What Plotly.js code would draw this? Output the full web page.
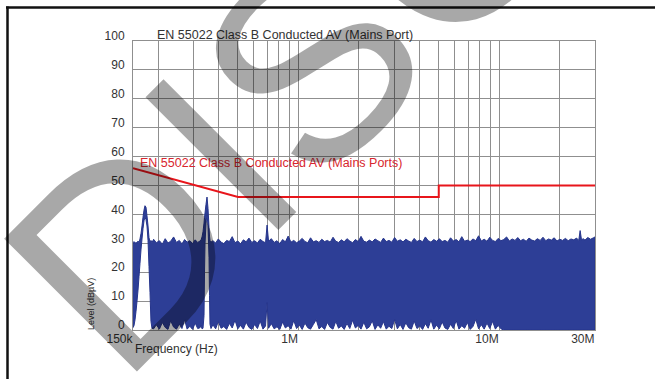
<!DOCTYPE html>
<html>
<head>
<meta charset="utf-8">
<script src="https://cdn.plot.ly/plotly-3.0.1.min.js"></script>
<style>
html,body{margin:0;padding:0;background:#fff;}
#chart{width:655px;height:379px;}
</style>
</head>
<body>
<div id="chart"></div>
<script>
// ---- data ----
// sweep frequencies in kHz
const freqKHz = [
 150,151.7,153.5,155.3,157.1,158.9,160.7,162.5,164.5,166.3,168.2,170.2,172.1,174.1,176.1,178.2,180.2,182.3,184.3,186.5,
 190,196,203,210,217,224,231,239,247,255,263,271,279,288,297,306,315,
 323.6,327.3,331.1,334.8,338.7,340.6,342.6,346.5,350.5,354.6,358.7,360.7,362.7,366.9,
 375,387,399,412,425,439,453,468,483,499,515,532,549,567,586,605,625,645,666,686,698,710,733,757,782,808,834,861,889,918,948,979,
 1011,1044,1078,1113,1149,1187,1226,1266,1307,1350,1394,1440,1487,1535,1585,1637,1690,1745,1802,1861,1922,1985,
 2050,2117,2186,2257,2331,2407,2486,2567,2651,2737,2826,2918,3013,3111,3213,3318,3426,3538,3653,3772,3895,
 4022,4153,4289,4429,4573,4722,4876,5035,5199,5369,5544,5725,5912,6105,6304,6510,6722,6942,7168,7402,7644,7893,
 8151,8417,8692,8975,9268,9571,9883,10206,10539,10883,11238,11605,11984,12375,12779,13196,13627,14072,14531,
 15005,15495,16001,16523,17062,17619,18194,18788,19401,20034,20688,21363,22060,22780,23523,24291,24900,25300,25700,
 26200,26747,27620,28521,29452,30000
];
// upper envelope of the measured level, dBµV
const levelMax = [
 29.5,30.6,29.8,30.4,30.0,30.8,30.2,31.5,33.5,36.0,39.0,41.5,43.0,42.5,39.5,36.0,32.0,30.4,31.0,30.2,
 31.4,30.2,30.9,29.7,31.6,30.1,30.7,32.2,30.3,31.0,29.8,31.3,30.4,30.9,29.9,31.2,30.3,
 30.8,31.2,32.2,34.0,37.0,39.0,40.5,43.5,46.0,42.0,35.5,32.5,31.0,30.4,
 30.9,30.1,31.5,30.4,29.9,31.0,30.6,32.3,30.2,30.8,29.8,31.2,30.5,31.8,30.3,30.9,30.1,31.4,30.6,30.2,36.3,30.7,31.6,30.3,30.9,29.9,31.3,30.5,32.5,30.4,31.0,30.2,
 30.8,31.7,30.6,30.2,31.9,30.5,30.9,30.3,31.4,30.6,31.0,30.4,32.1,30.7,30.3,31.2,30.5,31.6,30.8,30.2,31.3,30.6,
 32.4,30.7,30.4,31.1,30.5,31.5,30.9,30.3,31.8,30.6,31.0,30.4,32.0,30.7,31.2,30.5,31.4,30.8,30.3,31.7,30.6,
 31.1,30.5,32.2,30.9,30.4,31.3,30.7,31.6,30.6,31.0,30.4,31.9,30.8,31.3,30.5,32.3,30.7,31.1,30.6,31.5,30.9,32.6,
 30.8,31.4,30.7,32.1,31.0,30.6,31.7,30.9,31.3,32.2,30.8,31.5,31.0,32.0,30.9,31.4,30.7,31.8,31.1,
 30.8,31.6,31.0,32.1,30.9,31.5,31.1,31.9,30.8,31.4,31.0,31.7,30.9,31.5,31.2,31.8,31.0,34.4,31.2,
 31.6,31.1,32.0,31.4,31.9,32.2
];
// lower envelope of the measured level, dBµV
const levelMin = [
 0.8,1.5,3.5,6.5,10.0,13.8,18.5,23.0,28.0,31.5,35.0,37.8,39.0,38.2,36.0,31.0,22.0,13.0,3.0,0.6,
 0.4,1.8,0.3,2.6,0.9,0.2,3.2,1.0,0.3,2.1,0.5,3.6,0.3,1.3,0.2,2.4,0.5,
 0.8,1.5,0.4,0.6,5.0,20.0,30.0,37.0,40.0,36.0,25.0,12.0,2.0,0.5,
 1.8,0.4,2.9,0.6,1.2,0.2,2.3,0.7,3.4,0.4,1.6,0.3,2.7,0.9,0.2,1.9,0.5,3.1,0.3,1.4,9.5,0.6,2.2,0.4,1.1,0.2,2.8,0.7,1.5,0.3,3.3,0.5,
 1.7,0.2,2.4,0.8,0.3,1.9,3.6,0.4,1.2,0.2,2.6,0.9,0.3,3.0,0.6,1.4,0.2,2.3,0.5,3.4,0.7,1.6,
 0.3,2.7,0.4,1.1,3.2,0.2,1.8,0.6,2.9,0.3,1.3,0.5,3.6,0.4,1.9,0.2,2.5,0.8,0.3,3.1,0.5,
 1.4,0.2,2.2,0.6,3.5,0.3,1.7,0.4,2.8,0.7,0.2,2.0,0.5,3.3,0.3,1.5,0.6,2.6,0.2,1.2,3.7,0.4,
 1.8,0.3,2.4,0.5,3.0,0.3,1.6,0.4,0,0,0,0,0,0,0,0,0,0,0,
 0,0,0,0,0,0,0,0,0,0,0,0,0,0,0,0,0,0,0,
 0,0,0,0,0,0
];
// EN 55022 Class B average limit
const limitFreqKHz = [150, 500, 5000, 5000, 30000];
const limitLevel   = [56, 46, 46, 50, 50];
// axis ticks
const xTickVals = [150e3, 1e6, 10e6, 30e6];
const xTickText = ['150k', '1M', '10M', '30M'];
const xGridVals = [200e3,300e3,400e3,500e3,600e3,700e3,800e3,900e3,
                   2e6,3e6,4e6,5e6,6e6,7e6,8e6,9e6,20e6];

// ---- layout helpers (pixel placement of the plot area) ----
const W = 655, H = 379;
const PL = 133, PR = 595, PT = 41, PB = 330;
const px2x = X => (X - PL) / (PR - PL);
const px2y = Y => (PB - Y) / (PB - PT);
const FONT = 'Liberation Sans, Arial, sans-serif';
const GRID = '#8f8f8f';

const fHz = freqKHz.map(f => f * 1000);
const bandX = fHz.concat(fHz.slice().reverse());
const bandY = levelMax.concat(levelMin.slice().reverse());

const traces = [
  {
    x: bandX, y: bandY, type: 'scatter', mode: 'lines', fill: 'toself',
    fillcolor: '#2d3e96', line: {color: '#26358c', width: 1, simplify: false},
    hoverinfo: 'skip', showlegend: false
  },
  {
    x: limitFreqKHz.map(f => f * 1000), y: limitLevel, type: 'scatter', mode: 'lines',
    line: {color: '#e8151b', width: 2}, hoverinfo: 'skip', showlegend: false
  }
];

// watermark placement: centre of the word, from the position of the "I" stroke
const wmEm = 273, wmAngle = 45;
const iCenter = [221, 154];
const wmShift = (3.806 - 0.862) * wmEm;
const wmX = iCenter[0] + wmShift * Math.cos(wmAngle * Math.PI / 180);
const wmY = iCenter[1] - wmShift * Math.sin(wmAngle * Math.PI / 180);

const layout = {
  width: W, height: H,
  margin: {l: PL, r: W - PR, t: PT, b: H - PB, pad: 0},
  paper_bgcolor: '#ffffff', plot_bgcolor: '#ffffff',
  font: {family: FONT, size: 12, color: '#333'},
  showlegend: false,
  title: {
    text: 'EN 55022 Class B Conducted AV (Mains Port)',
    font: {family: FONT, size: 12.5, color: '#333'},
    xref: 'container', yref: 'container',
    x: 157 / W, xanchor: 'left', y: 1 - 35 / H, yanchor: 'middle'
  },
  xaxis: {
    type: 'log',
    range: [Math.log10(150e3), Math.log10(30e6)],
    tickmode: 'array', tickvals: xTickVals, ticktext: xTickText,
    ticklabelposition: 'outside left', ticklabelstandoff: -2,
    ticks: '', showgrid: true, gridcolor: GRID, gridwidth: 1,
    minor: {tickmode: 'array', tickvals: xGridVals, showgrid: true, gridcolor: GRID, gridwidth: 1, ticks: ''},
    showline: true, linecolor: GRID, linewidth: 1, mirror: true,
    zeroline: false, tickfont: {family: FONT, size: 12, color: '#333'}
  },
  yaxis: {
    range: [0, 100], dtick: 10, tick0: 0,
    ticks: '', ticklabelstandoff: 5, ticklabelshift: -5,
    showgrid: true, gridcolor: GRID, gridwidth: 1,
    showline: true, linecolor: GRID, linewidth: 1, mirror: true,
    zeroline: false, tickfont: {family: FONT, size: 12, color: '#333'}
  },
  shapes: [
    {type: 'line', xref: 'paper', yref: 'paper', x0: px2x(6), x1: px2x(660), y0: px2y(7.5), y1: px2y(7.5),
     line: {color: '#111', width: 2.5}},
    {type: 'line', xref: 'paper', yref: 'paper', x0: px2x(7.5), x1: px2x(7.5), y0: px2y(6.5), y1: px2y(385),
     line: {color: '#111', width: 2.5}}
  ],
  annotations: [
    {text: 'EN 55022 Class B Conducted AV (Mains Ports)', xref: 'paper', yref: 'paper',
     x: px2x(138), y: px2y(163), xanchor: 'left', yanchor: 'middle', showarrow: false,
     font: {family: FONT, size: 12.5, color: '#d8262e'}},
    {text: 'Frequency (Hz)', xref: 'paper', yref: 'paper',
     x: px2x(133), y: px2y(349), xanchor: 'left', yanchor: 'middle', showarrow: false,
     font: {family: FONT, size: 12, color: '#333'}},
    {text: 'Level (dBµV)', xref: 'paper', yref: 'paper', textangle: -90,
     x: px2x(91), y: px2y(332), xanchor: 'center', yanchor: 'bottom', showarrow: false,
     font: {family: FONT, size: 9, color: '#333'}},
    {text: 'DISCONTINUED', xref: 'paper', yref: 'paper', textangle: -wmAngle,
     x: px2x(wmX), y: px2y(wmY), xanchor: 'center', yanchor: 'middle', showarrow: false,
     font: {family: FONT, size: wmEm, color: 'rgba(0,0,0,0.34)'}}
  ]
};

Plotly.newPlot('chart', traces, layout, {staticPlot: true, displayModeBar: false});
</script>
</body>
</html>
